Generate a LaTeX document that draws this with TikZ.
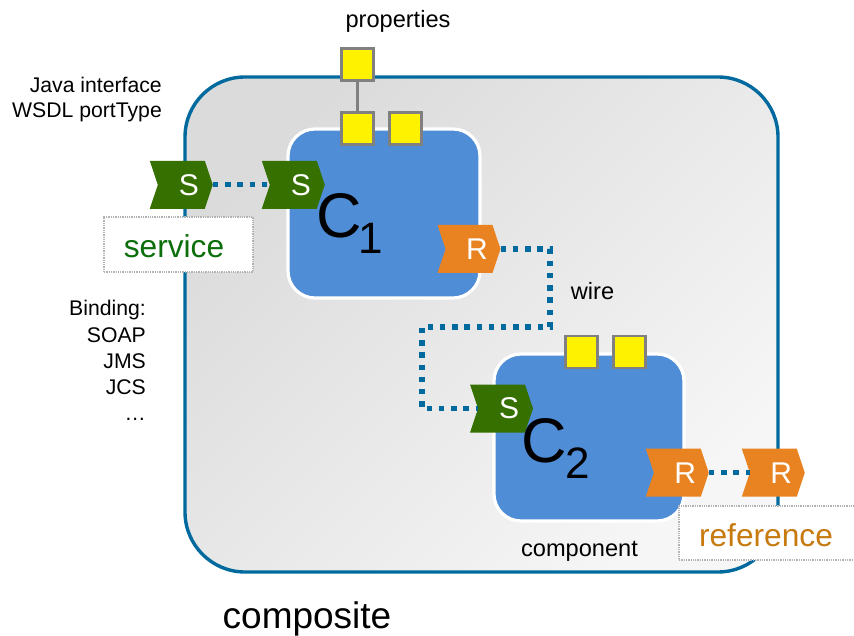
\documentclass[tikz,border=0pt]{standalone}
\usepackage{fontspec}
\setmainfont{Liberation Sans}
\usetikzlibrary{shapes.symbols}
\definecolor{wireblue}{HTML}{006A9E}
\definecolor{compblue}{HTML}{4F8DD6}
\definecolor{sgreen}{HTML}{357000}
\definecolor{rorange}{HTML}{E98322}
\definecolor{tgreen}{HTML}{0B6E0B}
\definecolor{torange}{HTML}{C77A0E}
\definecolor{bgdark}{HTML}{DBDBDB}
\definecolor{bglight}{HTML}{F6F6F6}
\tikzset{
  x=1pt,y=-1pt,
  chev/.style={signal,signal to=east,signal from=west,signal pointer angle=143,
    minimum width=63pt,minimum height=48pt,inner sep=0pt,text=white,
    font=\fontsize{30}{32}\selectfont},
  svc/.style={chev,fill=sgreen},
  ref/.style={chev,fill=rorange},
  prop/.style={draw=gray,line width=2.4pt,fill=yellow,minimum size=32pt,inner sep=0pt,outer sep=0pt},
  comp/.style={draw=white,line width=3.2pt,fill=compblue,rounded corners=27pt,inner sep=0pt},
  wire/.style={draw=wireblue,line width=5.4pt,dash pattern=on 5.4pt off 6.8pt},
  tag/.style={draw=black!30,densely dotted,line width=1.3pt,fill=white,inner sep=0pt},
  lab/.style={inner sep=0pt,font=\fontsize{21.2}{24}\selectfont},
  lab2/.style={inner sep=0pt,font=\fontsize{23.6}{26}\selectfont},
  tagtext/.style={inner sep=0pt,anchor=base,font=\fontsize{31.7}{34}\selectfont},
  big/.style={inner sep=0pt,font=\fontsize{63}{65}\selectfont},
  sub/.style={inner sep=0pt,font=\fontsize{44}{46}\selectfont},
}
\begin{document}
\begin{tikzpicture}
\useasboundingbox (0,0) rectangle (854,636);
\clip (0,0) rectangle (854,636);
% composite
\shade[rounded corners=60pt,left color=bgdark,right color=bglight,shading angle=45]
  (185,77) rectangle (778,572);
\draw[draw=wireblue,line width=3.4pt,rounded corners=60pt] (185,77) rectangle (778,572);
% components
\node[comp,minimum width=192pt,minimum height=169pt] (c1) at (384,213.5) {};
\node[comp,minimum width=190pt,minimum height=167pt] (c2) at (589,437.5) {};
% ports
\node[svc] (s0) at (181.3,184.8) {\hspace*{15pt}S};
\node[svc] (s1) at (293.3,184.8) {\hspace*{15pt}S};
\node[ref] (r1) at (469,249) {\hspace*{16pt}R};
\node[svc] (s2) at (501.5,408.5) {\hspace*{15pt}S};
\node[ref] (r2) at (677.3,472.7) {\hspace*{16pt}R};
\node[ref] (r3) at (773.3,472.7) {\hspace*{16pt}R};
% wires
\coordinate (wa) at (550,327);
\coordinate (wb) at (422,327);
\draw[wire] (s0.east) -- (s1.west);
\draw[wire] (r1.east) -| (wa) -- (wb) |- (s2.west);
\draw[wire] (r2.east) -- (r3.west);
% properties
\node[prop] (p0) at (357.5,64.7) {};
\node[prop] (p1) at (357.5,128.7) {};
\node[prop] (p2) at (405.5,128.7) {};
\node[prop] (p3) at (581.5,352) {};
\node[prop] (p4) at (629.5,352) {};
\draw[draw=gray,line width=2.8pt] (p0) -- (p1);
% component names
\node[big,anchor=base] (n1) at (339,238) {C};
\node[sub,anchor=base] (n1s) at (371,254) {1};
\node[big,anchor=base] (n2) at (544,462) {C};
\node[sub,anchor=base] (n2s) at (578,478) {2};
% tags
\node[tag,minimum width=149pt,minimum height=55pt] (tagS) at (178.5,244.5) {};
\node[tagtext,text=tgreen] (tagSt) at (174,258) {service};
\node[tag,minimum width=185pt,minimum height=54pt] (tagR) at (771.5,533) {};
\node[tagtext,text=torange] (tagRt) at (766,546.5) {reference};
% labels
\node[lab2,anchor=base] (tprop) at (398,27.5) {properties};
\node[lab,anchor=base east] (tj) at (162,93) {Java interface};
\node[lab,anchor=base east] (tw) at (162,118) {WSDL portType};
\node[lab,anchor=base east] (tb1) at (146,316) {Binding:};
\node[lab,anchor=base east] (tb2) at (146,342) {SOAP};
\node[lab,anchor=base east] (tb3) at (146,368) {JMS};
\node[lab,anchor=base east] (tb4) at (146,394) {JCS};
\node[lab,anchor=base east] (tb5) at (146,420) {…};
\node[lab2,anchor=base] (twire) at (592.5,300) {wire};
\node[lab2,anchor=base] (tcomp) at (579.5,556) {component};
\node[inner sep=0pt,anchor=base,font=\fontsize{37}{40}\selectfont] (tcs) at (307,628.5) {composite};
\end{tikzpicture}
\end{document}
